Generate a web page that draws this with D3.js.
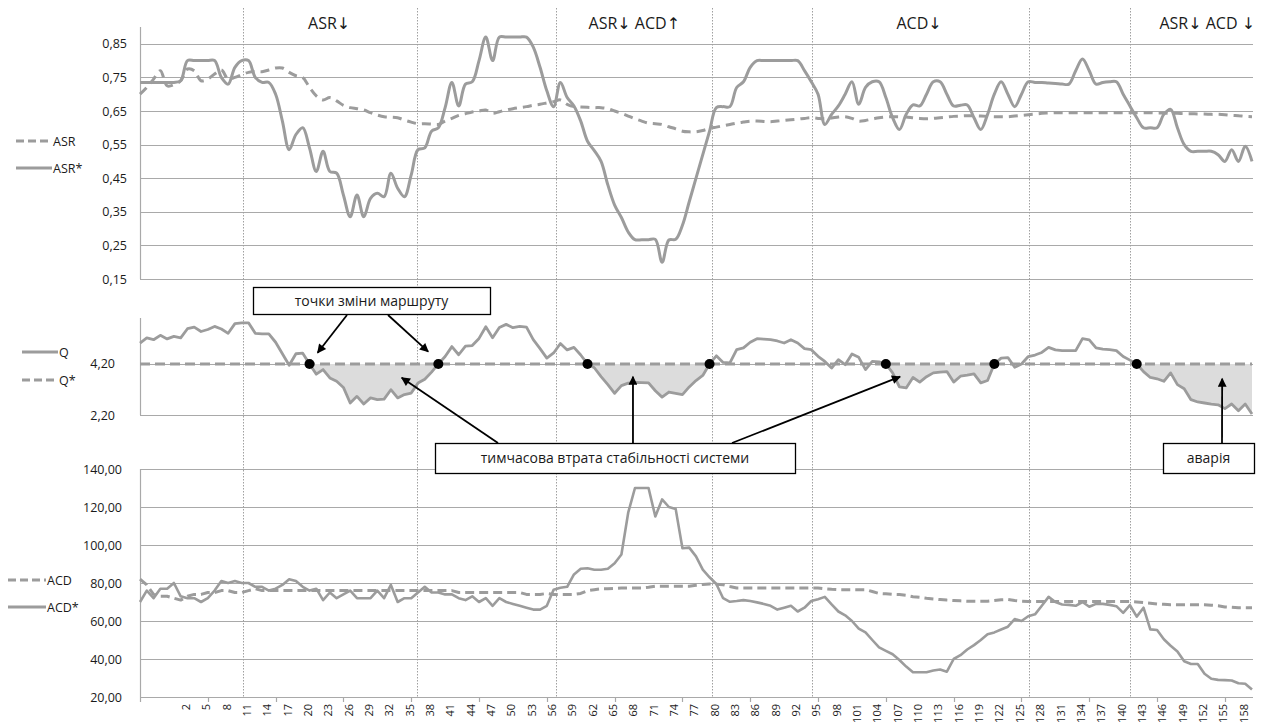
<!DOCTYPE html>
<html>
<head>
<meta charset="utf-8">
<script src="https://cdn.jsdelivr.net/npm/d3@7/dist/d3.min.js"></script>
<style>
  html, body { margin: 0; padding: 0; background: #fff; }
  svg text { font-family: "Open Sans", "Noto Sans", "DejaVu Sans", sans-serif; fill: #1a1a1a; }
</style>
</head>
<body>
<svg id="chart" width="1274" height="726"></svg>
<script>
// ---- time axis -------------------------------------------------------
const firstStep = -5, lastStep = 159;
const stepLabels = [2,5,8,11,14,17,20,23,26,29,32,35,38,41,44,47,50,53,56,59,62,65,68,71,74,77,80,83,86,89,92,95,98,101,104,107,110,113,116,119,122,125,128,131,134,137,140,143,146,149,152,155,158];
const stepTickMarks = [-5,5,15,25,35,45,55,65,75,85,95,105,115,125,135,145,155];
const phaseBreaks = [10.2, 35.9, 56.4, 79.4, 94.1, 126.1, 141.0];
const phaseTitles = ["ASR\u2193", "ASR\u2193 ACD\u2191", "ACD\u2193", "ASR\u2193 ACD \u2193"];
const phaseTitleSteps = [22.9, 67.9, 109.9, 152.4];

// ---- ASR panel ---------------------------------------------------------
const asrStar = [
  .735,.735,.735,.735,.735,.735,.74,.80,.80,.80,
  .80,.80,.75,.73,.78,.80,.80,.75,.735,.735,
  .70,.62,.535,.58,.60,.54,.47,.53,.47,.465,
  .40,.335,.40,.335,.39,.405,.395,.465,.42,.395,
  .46,.535,.54,.59,.60,.66,.735,.665,.73,.737,
  .80,.87,.80,.87,.87,.87,.87,.87,.84,.78,
  .71,.663,.735,.69,.665,.62,.56,.532,.50,.43,
  .37,.333,.29,.267,.267,.267,.268,.20,.266,.268,
  .31,.38,.45,.52,.59,.66,.663,.663,.72,.737,
  .78,.80,.80,.80,.80,.80,.80,.80,.77,.737,
  .70,.61,.64,.665,.70,.737,.67,.72,.737,.737,
  .69,.63,.595,.64,.668,.665,.70,.737,.737,.70,
  .665,.667,.668,.63,.595,.64,.70,.737,.70,.663,
  .70,.737,.735,.735,.733,.732,.73,.73,.77,.805,
  .77,.73,.735,.737,.737,.70,.665,.63,.60,.60,
  .60,.64,.655,.60,.55,.53,.53,.53,.53,.52,
  .50,.535,.50,.545,.50
];
const asr = [
  .70,.72,.745,.77,.725,.728,.74,.775,.77,.74,
  .745,.76,.772,.745,.75,.758,.765,.768,.767,.772,
  .778,.778,.765,.755,.75,.72,.695,.683,.69,.68,
  .667,.66,.657,.653,.645,.638,.633,.632,.63,.623,
  .617,.612,.612,.611,.61,.62,.628,.637,.642,.647,
  .65,.653,.643,.648,.653,.657,.66,.663,.667,.67,
  .674,.678,.683,.67,.663,.662,.661,.66,.66,.657,
  .65,.643,.635,.627,.62,.614,.612,.61,.603,.597,
  .59,.588,.588,.592,.598,.602,.606,.61,.614,.617,
  .62,.62,.619,.618,.62,.622,.624,.626,.628,.63,
  .628,.627,.629,.632,.633,.628,.62,.622,.626,.63,
  .632,.633,.633,.632,.63,.628,.627,.628,.63,.632,
  .634,.635,.636,.636,.635,.634,.633,.633,.633,.635,
  .637,.639,.641,.643,.644,.645,.645,.645,.645,.645,
  .645,.645,.645,.645,.645,.645,.645,.645,.645,.645,
  .644,.644,.643,.643,.642,.642,.641,.641,.64,.64,
  .639,.637,.636,.634,.633
];
const asrTicks = [0.15,0.25,0.35,0.45,0.55,0.65,0.75,0.85];

// ---- Q panel -----------------------------------------------------------
const q = [
  5.02,5.22,5.15,5.32,5.18,5.28,5.22,5.58,5.64,5.47,
  5.55,5.67,5.57,5.40,5.78,5.81,5.81,5.40,5.38,5.38,
  5.05,4.60,4.15,4.60,4.62,4.20,3.80,3.98,3.65,3.52,
  3.28,2.67,2.93,2.63,2.87,2.80,2.82,3.19,2.87,3.00,
  3.06,3.45,3.60,3.88,4.20,4.49,4.88,4.56,4.90,4.92,
  5.20,5.66,5.23,5.63,5.75,5.62,5.67,5.64,5.15,4.80,
  4.43,4.63,5.00,4.75,4.85,4.55,4.20,4.05,3.70,3.39,
  3.05,3.35,3.45,3.48,3.47,3.46,3.15,2.90,3.10,3.05,
  3.00,3.30,3.55,3.75,4.20,4.52,4.26,4.24,4.76,4.83,
  5.05,5.19,5.17,5.15,5.10,5.02,5.15,5.02,4.80,4.76,
  4.50,4.30,4.04,4.37,4.17,4.59,4.46,3.98,4.30,4.28,
  4.20,3.85,3.30,3.26,3.67,3.49,3.70,3.85,3.88,3.90,
  3.49,3.72,3.76,3.81,3.46,3.55,4.20,4.43,4.45,4.07,
  4.20,4.49,4.55,4.65,4.85,4.75,4.72,4.72,4.72,5.19,
  5.14,4.83,4.78,4.76,4.72,4.49,4.35,4.20,3.90,3.67,
  3.62,3.52,3.85,3.39,3.23,2.80,2.71,2.67,2.63,2.60,
  2.45,2.63,2.37,2.63,2.24
];
const qTarget = 4.20;
const qTicks = [2.20, 4.20];
const routeChangeSteps = [20, 39, 61, 79, 105, 121, 142];
const instabilityRanges = [[20, 39], [61, 79], [105, 121], [142, 159]];

// ---- ACD panel ---------------------------------------------------------
const acdStar = [
  70,76,72,77,77,80,73,72,72,70,
  72,76,81,80,81,80,80,78,78,76,
  77,79,82,81,78,76,77,71,75,72,
  74,76,72,72,72,76,72,79,70,72,
  72,75,78,75,75,74,74,72,71,73,
  70,72,68,72,70,69,68,67,66,66,
  68,76.5,77.5,78,84.5,87.5,87.8,87,87,87.5,
  90.4,95,117,130,130,130,115,124,120,119,
  98.3,98.6,94,87,83,79.5,72,70.1,70.5,71,
  70.5,69.8,69,68,66,67,68,65,67,70.5,
  71.5,72.7,68.7,65,63,60,56,54,50,46.1,
  44.3,42.5,39.5,36,33,33,33,33.9,34.5,33.3,
  40,42,45,47.3,50,53,54,55.5,57,61,
  60,62.5,63.5,68,72.7,70,68.7,68.5,68,70,
  67.5,69,69,68.5,67.8,64.3,68.3,62.3,67,55.6,
  55.3,50.4,47,44,38.8,37.4,37.4,32.2,29.6,29,
  28.9,28.7,27.2,27,24
];
const acd = [
  82,79,74,73,73,72,71,73,74,74,
  75,75,76,76,75,75,76,77,76,76,
  76,76,76,76,76,76,76,76,76,76,
  76,76,76,76,76,76,76,76,76,76,
  76,76,76,76,76,76,76,75,75,75,
  75,75,75,75,75,75,75,74,74,74,
  74.5,74,74,74,74,74.5,76,76.5,77,77,
  77.2,77.4,77.4,77.4,77.4,77.8,78.3,78.3,78.3,78.3,
  78.3,78.3,78.8,79.2,79.5,79.3,79.1,78.2,77.4,77.4,
  77.4,77.4,77.4,77.4,77.4,77.4,77.4,77.4,77.4,77.4,
  77.4,77,76.7,76.5,76.5,76.5,76.5,76.5,75.5,74.5,
  74.3,74,73.9,73.5,72.8,72.5,72,71.6,71.3,71,
  70.8,70.6,70.4,70.4,70.4,70.4,70.8,71.2,71.3,70.8,
  70.4,70.2,70.2,70.2,70.2,70.2,70.2,70.2,70.2,70.2,
  70.2,70.2,70.2,70.2,70.2,70.2,70.2,70,69.7,69.4,
  69,68.8,68.5,68.5,68.5,68.5,68.5,68.5,68.3,68,
  67.4,67.2,67,67,67
];
const acdTicks = [20,40,60,80,100,120,140];

// ---- drawing -----------------------------------------------------------
const svg = d3.select("#chart");
const ru = d3.formatLocale({decimal: ",", thousands: " ", grouping: [3], currency: ["", ""]});
const fmt2 = ru.format(".2f");

const plotLeft = 140, plotRight = 1253;
const x = d3.scaleLinear().domain([firstStep, lastStep]).range([140, 1252]);
const stepAt = i => x(firstStep + i);

const yTop = d3.scaleLinear().domain([0.15, 0.90]).range([279, 27]);
const yMid = d3.scaleLinear().domain([2.2, 6.0]).range([415, 318]);
const yBot = d3.scaleLinear().domain([20, 140]).range([697, 469]);

const GRID = "#a9a9a9", SERIES = "#9c9c9c";

// arrowhead
svg.append("defs").append("marker")
  .attr("id", "head").attr("viewBox", "0 0 10 10")
  .attr("refX", 9).attr("refY", 5)
  .attr("markerWidth", 11).attr("markerHeight", 9)
  .attr("markerUnits", "userSpaceOnUse")
  .attr("orient", "auto")
  .append("path").attr("d", "M0,0 L10,5 L0,10 z").attr("fill", "#000");

// horizontal gridlines
function grid(scale, values) {
  svg.append("g").selectAll("line").data(values).join("line")
    .attr("x1", plotLeft).attr("x2", plotRight)
    .attr("y1", d => Math.round(scale(d)) + 0.5).attr("y2", d => Math.round(scale(d)) + 0.5)
    .attr("stroke", GRID).attr("stroke-width", 1.2);
}
grid(yTop, asrTicks);
grid(yMid, qTicks);
grid(yBot, acdTicks);

// vertical axis lines
function vAxis(scale) {
  const [a, b] = scale.range();
  svg.append("line").attr("x1", plotLeft + 0.5).attr("x2", plotLeft + 0.5)
    .attr("y1", a).attr("y2", b).attr("stroke", GRID).attr("stroke-width", 1.2);
}
vAxis(yTop); vAxis(yMid); vAxis(yBot);

// phase separators
svg.append("g").selectAll("line").data(phaseBreaks).join("line")
  .attr("x1", d => Math.round(x(d)) + 0.5).attr("x2", d => Math.round(x(d)) + 0.5)
  .attr("y1", 8).attr("y2", 697)
  .attr("stroke", "#a0a0a0").attr("stroke-width", 1).attr("stroke-dasharray", "1.5,1.5");

// phase titles
svg.append("g").selectAll("text").data(phaseTitles).join("text")
  .attr("x", (d, i) => x(phaseTitleSteps[i])).attr("y", 29)
  .attr("text-anchor", "middle").attr("font-size", 16)
  .text(d => d);

// y tick labels
function yLabels(scale, values, right) {
  svg.append("g").selectAll("text").data(values).join("text")
    .attr("x", right).attr("y", d => scale(d)).attr("dy", "0.36em")
    .attr("text-anchor", "end").attr("font-size", 12.5)
    .text(d => fmt2(d));
}
yLabels(yTop, asrTicks, 127);
yLabels(yMid, qTicks, 115);
yLabels(yBot, acdTicks, 122);

// x axis: tick marks and rotated labels
svg.append("g").selectAll("line").data(stepTickMarks).join("line")
  .attr("x1", d => Math.round(x(d)) + 0.5).attr("x2", d => Math.round(x(d)) + 0.5)
  .attr("y1", 697).attr("y2", 702).attr("stroke", GRID).attr("stroke-width", 1.2);
svg.append("g").selectAll("text").data(stepLabels).join("text")
  .attr("transform", d => `translate(${x(d) - 1.5},704) rotate(-90)`)
  .attr("dy", "0.35em").attr("text-anchor", "end").attr("font-size", 11)
  .text(d => d);

// instability areas (between Q and target)
const area = d3.area()
  .x(d => x(d.s)).y0(yMid(qTarget)).y1(d => yMid(d.v));
instabilityRanges.forEach(([s0, s1]) => {
  const pts = [];
  for (let s = s0; s <= s1; s++) pts.push({s, v: q[s - firstStep]});
  svg.append("path").attr("d", area(pts)).attr("fill", "#dcdcdc").attr("stroke", "none");
});

// series lines
function series(values, scale, dash, width, curve) {
  const line = d3.line().x((d, i) => stepAt(i)).y(d => scale(d)).curve(curve || d3.curveLinear);
  svg.append("path").attr("d", line(values))
    .attr("fill", "none").attr("stroke", SERIES).attr("stroke-width", width)
    .attr("stroke-linejoin", "round").attr("stroke-linecap", "butt")
    .attr("stroke-dasharray", dash || null);
}
series(asr, yTop, "9,6", 3, d3.curveCatmullRom.alpha(0.5));
series(asrStar, yTop, null, 3, d3.curveCatmullRom.alpha(0.5));

// target Q* line
svg.append("path")
  .attr("d", d3.line().x(d => x(d)).y(() => yMid(qTarget))([firstStep, lastStep]))
  .attr("fill", "none").attr("stroke", SERIES).attr("stroke-width", 3).attr("stroke-dasharray", "10,5");
series(q, yMid, null, 2.8);

series(acd, yBot, "9,5", 3);
series(acdStar, yBot, null, 2.6);

// route change points
svg.append("g").selectAll("circle").data(routeChangeSteps).join("circle")
  .attr("cx", d => x(d)).attr("cy", d => yMid(q[d - firstStep]))
  .attr("r", 5).attr("fill", "#000");

// legends
function legend(y, label, dash, x0, x1) {
  svg.append("line").attr("x1", x0).attr("x2", x1).attr("y1", y).attr("y2", y)
    .attr("stroke", SERIES).attr("stroke-width", 3).attr("stroke-dasharray", dash || null);
  svg.append("text").attr("x", x1 + 1).attr("y", y).attr("dy", "0.36em")
    .attr("font-size", 12.5).text(label);
}
legend(141, "ASR", "8,4", 16, 52);
legend(168, "ASR*", null, 16, 52);
legend(352, "Q", null, 22, 58);
legend(380, "Q*", "8,4", 22, 58);
legend(580, "ACD", "8,4", 8, 46);
legend(607, "ACD*", null, 8, 46);

// callouts
function box(x0, y0, x1, y1, label) {
  svg.append("rect").attr("x", x0 + 0.5).attr("y", y0 + 0.5)
    .attr("width", x1 - x0).attr("height", y1 - y0)
    .attr("fill", "#fff").attr("stroke", "#000").attr("stroke-width", 1.3);
  svg.append("text").attr("x", (x0 + x1) / 2).attr("y", (y0 + y1) / 2).attr("dy", "0.36em")
    .attr("text-anchor", "middle").attr("font-size", 14).text(label);
}
function arrow(px, py, step, value) {
  svg.append("line").attr("x1", px).attr("y1", py)
    .attr("x2", x(step)).attr("y2", yMid(value))
    .attr("stroke", "#000").attr("stroke-width", 1.8).attr("marker-end", "url(#head)");
}
arrow(347, 315, 21.2, 4.64);
arrow(388, 315, 37.5, 4.68);
arrow(498, 443, 33.6, 3.66);
arrow(633, 443, 67.7, 3.70);
arrow(732, 443, 107.1, 3.70);
arrow(1222, 443, 154.6, 3.62);
box(253, 287, 490, 314, "точки зміни маршруту");
box(435, 443, 795, 473, "тимчасова втрата стабільності системи");
box(1163, 443, 1254, 473, "аварія");
</script>
</body>
</html>
